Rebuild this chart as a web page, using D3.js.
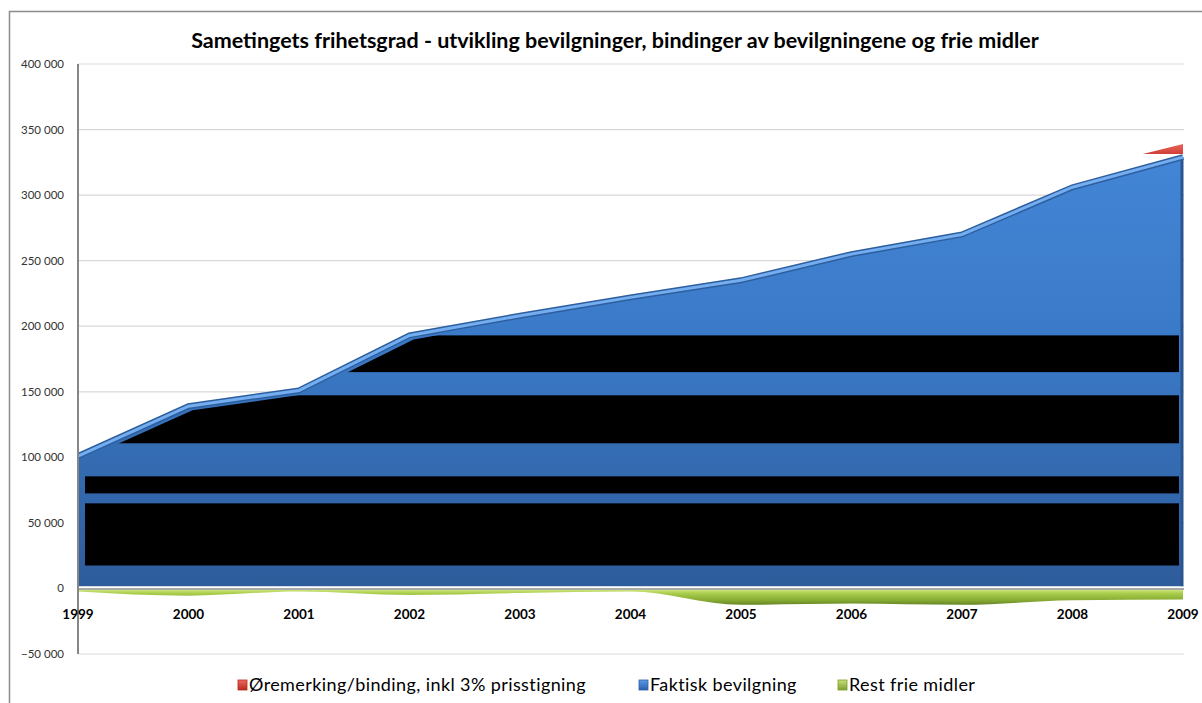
<!DOCTYPE html>
<html>
<head>
<meta charset="utf-8">
<script src="https://cdn.jsdelivr.net/npm/d3@7"></script>
<style>
  body { margin: 0; background: #fff; }
  text { font-family: Lato, "Open Sans", sans-serif; }
</style>
</head>
<body>
<svg id="chart" width="1202" height="703"></svg>
<script>
// data
const years = ["1999", "2000", "2001", "2002", "2003", "2004", "2005", "2006", "2007", "2008", "2009"];
const faktisk = [101000, 139000, 151000, 193000, 208000, 222000, 235000, 255000, 270000, 306000, 329000];
// Øremerking only shows where it rises above the blue area (end of period)
const oremerking = [null, null, null, null, null, null, null, null, null, 318000, 339000];
const restFrie = [0, -5500, -1000, -5000, -3500, -2000, -12500, -11500, -12500, -9000, -8500];
const yTicks = [-50000, 0, 50000, 100000, 150000, 200000, 250000, 300000, 350000, 400000];
// dark render bands seen inside the blue area (value ranges)
const darkBands = [[17500, 64900], [72500, 85500], [110700, 147300], [165000, 193000]];

const seriesNames = ["Øremerking/binding,  inkl 3% prisstigning", "Faktisk bevilgning", "Rest frie midler"];

const svg = d3.select("#chart");
const plotLeft = 78, plotRight = 1183, plotTop = 64, plotBottom = 654;

const x = d3.scalePoint().domain(years).range([plotLeft, plotRight]);
const y = d3.scaleLinear().domain([-50000, 400000]).range([plotBottom, plotTop]);

const fmt = d3.formatLocale({ decimal: ",", thousands: " ", grouping: [3] }).format(",d");

// outer frame
svg.append("rect")
  .attr("x", 9.5).attr("y", 11.5)
  .attr("width", 1210).attr("height", 700)
  .attr("fill", "none")
  .attr("stroke", "#8c8c8c")
  .attr("stroke-width", 1.5);

// title
svg.append("text")
  .attr("x", 615).attr("y", 48)
  .attr("text-anchor", "middle")
  .attr("font-size", "21.5px")
  .attr("font-weight", "bold")
  .attr("fill", "#000")
  .text("Sametingets frihetsgrad - utvikling bevilgninger, bindinger av bevilgningene og frie midler");

// gridlines
svg.append("g")
  .selectAll("line")
  .data(yTicks.filter(d => d !== 0))
  .enter().append("line")
  .attr("x1", plotLeft).attr("x2", plotRight + 1)
  .attr("y1", d => y(d)).attr("y2", d => y(d))
  .attr("stroke", "#d9d9d9")
  .attr("stroke-width", 1.2);

// y axis labels
svg.append("g")
  .selectAll("text")
  .data(yTicks)
  .enter().append("text")
  .attr("x", 64)
  .attr("y", d => y(d))
  .attr("dy", "0.35em")
  .attr("text-anchor", "end")
  .attr("font-size", "11.5px")
  .attr("fill", "#333")
  .text(d => fmt(d));

const defs = svg.append("defs");

const blueGrad = defs.append("linearGradient")
  .attr("id", "blue-grad")
  .attr("gradientUnits", "userSpaceOnUse")
  .attr("x1", 0).attr("x2", 0)
  .attr("y1", y(330000)).attr("y2", y(0));
blueGrad.append("stop").attr("offset", 0).attr("stop-color", "#4385d6");
blueGrad.append("stop").attr("offset", 0.45).attr("stop-color", "#3a79c6");
blueGrad.append("stop").attr("offset", 1).attr("stop-color", "#2e5c9b");

const greenGrad = defs.append("linearGradient")
  .attr("id", "green-grad")
  .attr("gradientUnits", "userSpaceOnUse")
  .attr("x1", 0).attr("x2", 0)
  .attr("y1", y(0)).attr("y2", y(-13000));
greenGrad.append("stop").attr("offset", 0).attr("stop-color", "#dcee8e");
greenGrad.append("stop").attr("offset", 0.3).attr("stop-color", "#a8cc4a");
greenGrad.append("stop").attr("offset", 0.7).attr("stop-color", "#86aa33");
greenGrad.append("stop").attr("offset", 1).attr("stop-color", "#5f7e22");

const redGrad = defs.append("linearGradient")
  .attr("id", "red-grad")
  .attr("gradientUnits", "userSpaceOnUse")
  .attr("x1", 0).attr("x2", 0)
  .attr("y1", y(340000)).attr("y2", y(329000));
redGrad.append("stop").attr("offset", 0).attr("stop-color", "#ec6a5f");
redGrad.append("stop").attr("offset", 1).attr("stop-color", "#c8342c");

// red series (behind, only its top sliver shows above the blue back edge)
const redBase = y(faktisk[faktisk.length - 1]) - 3;
defs.append("clipPath")
  .attr("id", "red-clip")
  .append("rect")
  .attr("x", plotLeft).attr("y", plotTop)
  .attr("width", plotRight - plotLeft)
  .attr("height", redBase - plotTop);

const redArea = d3.area()
  .defined(d => d != null)
  .x((d, i) => x(years[i]))
  .y0(y(0))
  .y1(d => y(d));
svg.append("path")
  .datum(oremerking)
  .attr("clip-path", "url(#red-clip)")
  .attr("d", redArea)
  .attr("fill", "url(#red-grad)");

// blue area
const blueArea = d3.area()
  .x((d, i) => x(years[i]))
  .y0(y(0) - 2)
  .y1(d => y(d));

svg.append("path")
  .datum(faktisk)
  .attr("d", blueArea)
  .attr("fill", "url(#blue-grad)");

// dark bands clipped to the blue area
defs.append("clipPath")
  .attr("id", "blue-clip")
  .append("path")
  .datum(faktisk)
  .attr("transform", "translate(4,4)")
  .attr("d", blueArea);

svg.append("g")
  .attr("clip-path", "url(#blue-clip)")
  .selectAll("rect")
  .data(darkBands)
  .enter().append("rect")
  .attr("x", x("1999") + 7)
  .attr("width", x("2009") - x("1999") - 11)
  .attr("y", d => y(d[1]))
  .attr("height", d => y(d[0]) - y(d[1]))
  .attr("fill", "#000");

// right side edge
svg.append("line")
  .attr("x1", plotRight - 1).attr("x2", plotRight - 1)
  .attr("y1", y(faktisk[faktisk.length - 1])).attr("y2", y(0) - 2)
  .attr("stroke", "#2a5590")
  .attr("stroke-width", 3);

// highlighted top edge of blue area
const topLine = d3.line().x((d, i) => x(years[i])).y(d => y(d));
svg.append("path")
  .datum(faktisk)
  .attr("d", topLine)
  .attr("fill", "none")
  .attr("stroke", "#2d5f9f")
  .attr("stroke-width", 6);
svg.append("path")
  .datum(faktisk)
  .attr("d", topLine)
  .attr("fill", "none")
  .attr("stroke", "#74aef0")
  .attr("stroke-width", 3);

// white gap under the blue area, then the zero line
svg.append("line")
  .attr("x1", plotLeft).attr("x2", plotRight)
  .attr("y1", y(0) - 1.5).attr("y2", y(0) - 1.5)
  .attr("stroke", "#fff")
  .attr("stroke-width", 1);
svg.append("line")
  .attr("x1", plotLeft).attr("x2", plotRight + 1)
  .attr("y1", y(0) + 0.5).attr("y2", y(0) + 0.5)
  .attr("stroke", "#8c8c8c")
  .attr("stroke-width", 1.5);

// green area (front)
const greenArea = d3.area()
  .curve(d3.curveMonotoneX)
  .x((d, i) => x(years[i]))
  .y0(y(0) + 1.5)
  .y1(d => Math.max(y(d), y(0) + 3));
svg.append("path")
  .datum(restFrie)
  .attr("d", greenArea)
  .attr("fill", "url(#green-grad)");

// y axis line
svg.append("line")
  .attr("x1", plotLeft).attr("x2", plotLeft)
  .attr("y1", plotTop).attr("y2", plotBottom)
  .attr("stroke", "#868686")
  .attr("stroke-width", 2);

// x labels
svg.append("g")
  .selectAll("text")
  .data(years)
  .enter().append("text")
  .attr("x", d => x(d))
  .attr("y", 619)
  .attr("text-anchor", "middle")
  .attr("font-size", "13.5px")
  .attr("font-weight", "bold")
  .attr("fill", "#000")
  .text(d => d);

// legend
const legendColors = [["#ec6a5f", "#b8281f"], ["#5b9be6", "#2a5fa8"], ["#c8e07a", "#7e9f2c"]];
const legendX = [238, 639, 838];
legendColors.forEach((c, i) => {
  const g = defs.append("linearGradient")
    .attr("id", "leg-" + i)
    .attr("x1", 0).attr("x2", 0).attr("y1", 0).attr("y2", 1);
  g.append("stop").attr("offset", 0).attr("stop-color", c[0]);
  g.append("stop").attr("offset", 1).attr("stop-color", c[1]);
});

const legend = svg.append("g")
  .selectAll("g")
  .data(seriesNames)
  .enter().append("g")
  .attr("transform", (d, i) => `translate(${legendX[i]},680)`);

legend.append("rect")
  .attr("x", 0).attr("y", 0)
  .attr("width", 9).attr("height", 10)
  .attr("fill", (d, i) => `url(#leg-${i})`)
  .attr("stroke", (d, i) => legendColors[i][1])
  .attr("stroke-width", 0.8);

legend.append("text")
  .attr("x", 11)
  .attr("y", 5)
  .attr("dy", "0.35em")
  .attr("font-size", "18px")
  .attr("letter-spacing", "0.4px")
  .attr("fill", "#000")
  .text(d => d);
</script>
</body>
</html>
